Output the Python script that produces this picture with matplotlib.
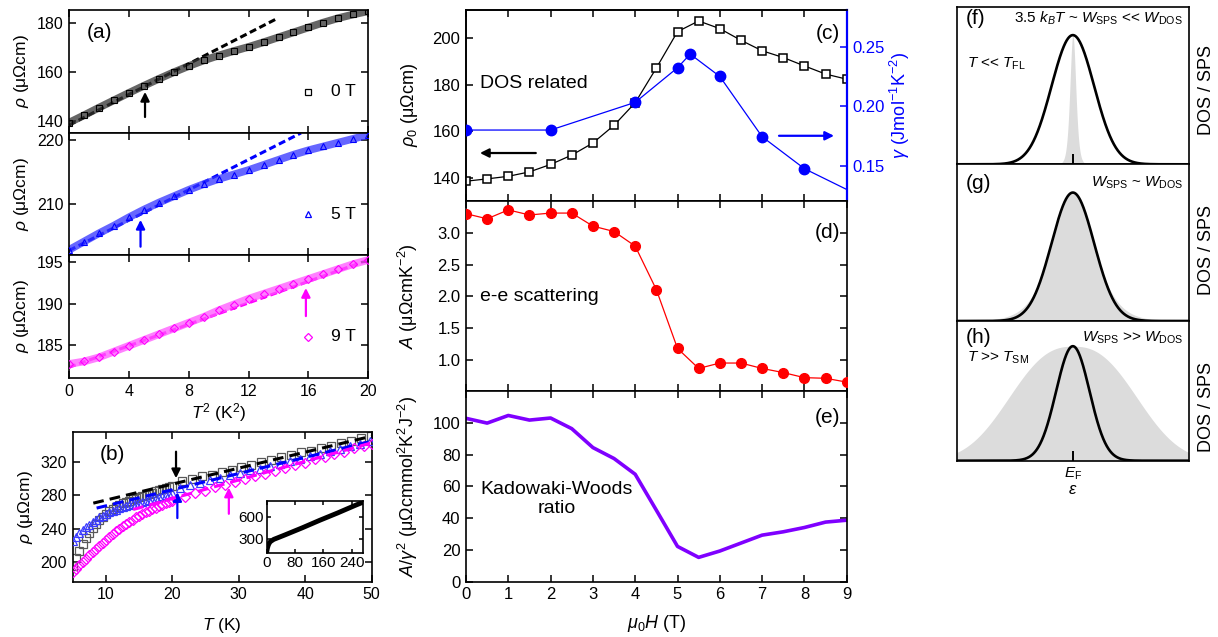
import numpy as np
import matplotlib
matplotlib.use('Agg')
import matplotlib.pyplot as plt

plt.rcParams['font.family'] = ['Liberation Sans', 'DejaVu Sans']
plt.rcParams['mathtext.fontset'] = 'custom'
plt.rcParams['mathtext.rm'] = 'Liberation Sans'
plt.rcParams['mathtext.it'] = 'Liberation Sans:italic'
plt.rcParams['mathtext.sf'] = 'Liberation Sans'
plt.rcParams['axes.linewidth'] = 1.2

BLUE = '#0000FF'
MAG = '#FF00FF'
RED = '#FF0000'
PURPLE = '#7F00FF'

# ---------------- panel (a): rho vs T^2 ----------------
t2_a = [0, 1, 2, 3, 4, 5, 6, 7, 8, 9, 10, 11, 12, 13, 14, 15, 16, 17, 18, 19, 20]
rho_a_0T = [139.5, 142.5, 145.6, 148.6, 151.6, 154.5, 157.3, 160.0, 162.5, 164.8, 166.8,
            168.6, 170.3, 172.2, 174.2, 176.2, 178.2, 180.2, 182.0, 183.5, 184.8]
rho_a_5T = [202.8, 204.1, 205.4, 206.6, 207.9, 209.1, 210.2, 211.2, 212.2, 213.1, 213.9,
            214.6, 215.3, 216.1, 216.9, 217.7, 218.4, 219.0, 219.6, 220.2, 220.8]
rho_a_9T = [182.7, 183.0, 183.5, 184.2, 184.9, 185.6, 186.3, 187.0, 187.7, 188.4, 189.2,
            189.9, 190.6, 191.2, 191.8, 192.4, 193.0, 193.6, 194.2, 194.8, 195.3]
fit_a_x_0T = [0, 13.8]
fit_a_y_0T = [138.5, 181.5]
fit_a_x_5T = [0, 15.5]
fit_a_y_5T = [202.7, 221.1]
fit_a_x_9T = [0, 20]
fit_a_y_9T = [182.3, 195.3]
arrow_a_x = [5.08, 4.78, 15.83]
arrow_a_y0 = [141.8, 203.3, 188.5]
arrow_a_y1 = [152.0, 207.5, 191.9]

# ---------------- panel (b): rho vs T ----------------
T_b_dense = [5.0, 5.5, 6.0, 6.5, 7.0, 7.5, 8.0, 8.5, 9.0, 9.5, 10.0, 10.5, 11.0, 11.5, 12.0,
             12.5, 13.0, 13.5, 14.0, 14.5, 15.0, 15.5, 16.0, 16.5, 17.0, 17.5, 18.0, 18.5,
             19.0, 19.5, 20.0]
rho_b_0T_dense = [196, 205, 214, 222, 229, 235, 241, 246, 250.5, 254.5, 258, 261, 264, 266.5,
                  268.5, 270.5, 272, 273.5, 275, 276.5, 278, 279.3, 280.6, 281.9, 283.2,
                  284.5, 285.8, 287, 288.2, 289.4, 290.6]
rho_b_5T_dense = [226, 230.5, 234.5, 238.5, 242, 245, 248, 251, 253.5, 255.7, 257.8, 259.7,
                  261.5, 263, 264.5, 265.8, 267, 268.1, 269.1, 270.1, 271.1, 272, 273, 274,
                  275.1, 276.3, 277.5, 278.8, 280.1, 281.4, 282.7]
rho_b_9T_dense = [188.5, 192.5, 196.5, 200.5, 204.5, 208.5, 212.5, 216.2, 220, 223.6, 227.2,
                  230.6, 234, 237.3, 240.3, 243.2, 246, 248.6, 251.1, 253.5, 255.8, 257.9,
                  259.9, 261.8, 263.6, 265.3, 267, 268.7, 270.3, 271.9, 273.5]
T_b_0T_sparse = [21.4, 22.9, 24.4, 25.9, 27.4, 28.9, 30.4, 31.9, 33.4, 34.9, 36.4, 37.9,
                 39.4, 40.9, 42.4, 43.9, 45.4, 46.9, 48.4, 49.9]
rho_b_0T_sparse = [296.8, 299.0, 302.6, 304.5, 308.2, 310.3, 313.9, 315.8, 319.6, 321.7,
                   325.3, 327.4, 331.0, 333.1, 336.7, 338.8, 342.4, 344.5, 348.1, 350.2]
T_b_5T_sparse = [21.2, 22.7, 24.2, 25.7, 27.2, 28.7, 30.2, 31.7, 33.2, 34.7, 36.2, 37.7,
                 39.2, 40.7, 42.2, 43.7, 45.2, 46.7, 48.2, 49.7]
rho_b_5T_sparse = [288.6, 292.0, 294.4, 297.9, 300.2, 303.7, 306.0, 309.5, 311.8, 315.2,
                   317.5, 321.0, 323.3, 326.8, 329.1, 332.6, 334.9, 338.4, 340.6, 344.1]
T_b_9T_sparse = [21.9, 23.4, 24.9, 26.4, 27.9, 29.4, 30.9, 32.4, 33.9, 35.4, 36.9, 38.4,
                 39.9, 41.4, 42.9, 44.4, 45.9, 47.4, 48.9, 50.0]
rho_b_9T_sparse = [278.3, 282.6, 285.6, 289.6, 292.3, 296.1, 298.8, 302.9, 305.5, 309.4,
                   312.0, 316.0, 318.6, 322.6, 325.1, 329.2, 331.6, 335.7, 338.3, 341.0]
fit_b_x_0T = [8.1, 50]
fit_b_y_0T = [270.6, 350.4]
fit_b_x_5T = [8.6, 50]
fit_b_y_5T = [264.7, 344.4]
fit_b_x_9T = [14.1, 50]
fit_b_y_9T = [263.0, 342.5]
T_inset = [0, 2, 4, 6, 8, 10, 12, 15, 20, 30, 50, 100, 150, 200, 250, 271]
rho_inset = [120, 170, 205, 228, 245, 258, 266, 276, 292, 311, 350, 450, 555, 655, 760, 802]

# ---------------- panels (c)-(e): field dependence ----------------
H = [0, 0.5, 1, 1.5, 2, 2.5, 3, 3.5, 4, 4.5, 5, 5.5, 6, 6.5, 7, 7.5, 8, 8.5, 9]
rho0 = [138.5, 139.5, 140.6, 142.5, 145.7, 149.7, 154.9, 162.5, 172.2, 187.1, 202.7, 207.3,
        204.0, 199.0, 194.5, 191.6, 188.0, 184.5, 182.3]
H_gamma = [0, 2, 4, 5, 5.3, 6, 7, 8, 9]
gamma = [0.180, 0.180, 0.2033, 0.2324, 0.2439, 0.2251, 0.1744, 0.1475, 0.130]
A_coef = [3.30, 3.22, 3.36, 3.28, 3.31, 3.31, 3.105, 3.02, 2.79, 2.105, 1.18, 0.865, 0.95,
          0.95, 0.865, 0.80, 0.72, 0.71, 0.65]
KW = [102.8, 99.8, 104.6, 101.7, 103.0, 96.3, 84.4, 77.5, 67.6, 45.0, 22.2, 15.3, 19.3,
      24.3, 29.3, 31.4, 34.1, 37.5, 38.7]

# ---------------- panels (f)-(h): schematic widths ----------------
w_dos = [0.915, 0.915, 0.72]      # Gaussian sigma of DOS (black)
w_sps = [0.085, 0.60, 3.39]       # width parameter of SPS (gray)

fig = plt.figure(figsize=(12.18, 6.37), dpi=100)


def ax_at(l, t, r, b):
    W, Hh = 1218.0, 637.0
    return fig.add_axes([l / W, 1 - b / Hh, (r - l) / W, (b - t) / Hh])


def tk(ax, size=11.5, length=5):
    ax.tick_params(which='both', direction='in', top=True, right=True, length=length,
                   width=1.1, labelsize=size, pad=4)


arr_kw = dict(arrowstyle='-|>', lw=1.6, mutation_scale=13, shrinkA=0, shrinkB=0)

# ---- panel (a) ----
a1 = ax_at(69, 10, 368.3, 133)
a2 = ax_at(69, 133, 368.3, 255)
a3 = ax_at(69, 255, 368.3, 378)
series = [
    (a1, rho_a_0T, 'k', '#333333', 's', fit_a_x_0T, fit_a_y_0T, (135.3, 185.3), [140, 160, 180], '0 T'),
    (a2, rho_a_5T, BLUE, '#3333ff', '^', fit_a_x_5T, fit_a_y_5T, (202.0, 221.1), [210, 220], '5 T'),
    (a3, rho_a_9T, MAG, '#ff55ff', 'D', fit_a_x_9T, fit_a_y_9T, (181.0, 195.9), [185, 190, 195], '9 T'),
]
for i, (ax, y, c, bc, m, fx, fy, yl, yt, lab) in enumerate(series):
    ax.plot(fx, fy, '--', color=c, lw=2.2, dashes=(2.3, 1.2), zorder=1)
    ax.plot(t2_a, y, '-', color=bc, lw=5.5, alpha=0.75, zorder=2, solid_capstyle='butt')
    ax.plot(t2_a, y, m, mfc='none', mec=c, ms=4.5 if m != 'D' else 4, mew=0.8, zorder=3)
    ax.set_xlim(0, 20)
    ax.set_ylim(*yl)
    ax.set_yticks(yt)
    ax.set_xticks([0, 4, 8, 12, 16, 20])
    tk(ax)
    ax.set_ylabel(r'$\rho$ (μΩcm)', fontsize=12.5, labelpad=4)
    ax.annotate('', xy=(arrow_a_x[i], arrow_a_y1[i]), xytext=(arrow_a_x[i], arrow_a_y0[i]),
                arrowprops=dict(color=c, **arr_kw))
    ax.plot([0.80], [0.335], m, mfc='none', mec=c, ms=5 if m != 'D' else 4.5, mew=0.9,
            transform=ax.transAxes)
    ax.text(0.875, 0.335, lab, transform=ax.transAxes, fontsize=12.5, va='center', ha='left')
    if i < 2:
        ax.tick_params(labelbottom=False)
a1.text(0.06, 0.82, '(a)', transform=a1.transAxes, fontsize=15, va='center')
a3.set_xlabel(r'$T^2$ (K$^2$)', fontsize=12.5, labelpad=2)

# ---- panel (b) ----
b = ax_at(72.7, 432.3, 371.7, 581.7)
b.plot(T_b_dense, rho_b_0T_dense, 's', mfc='none', mec='0.35', ms=5.5, mew=0.9, zorder=2)
b.plot(T_b_0T_sparse, rho_b_0T_sparse, 's', mfc='none', mec='0.35', ms=5.5, mew=0.9, zorder=2)
b.plot(T_b_dense, rho_b_5T_dense, '^', mfc='none', mec='#3a3aff', ms=6, mew=0.9, zorder=3)
b.plot(T_b_5T_sparse, rho_b_5T_sparse, '^', mfc='none', mec='#3a3aff', ms=6, mew=0.9, zorder=3)
b.plot(T_b_dense, rho_b_9T_dense, 'D', mfc='none', mec=MAG, ms=5, mew=0.9, zorder=3)
b.plot(T_b_9T_sparse, rho_b_9T_sparse, 'D', mfc='none', mec=MAG, ms=5, mew=0.9, zorder=3)
b.plot(fit_b_x_0T, fit_b_y_0T, '--', color='k', lw=2.2, dashes=(3.5, 2), zorder=4)
b.plot(fit_b_x_5T, fit_b_y_5T, '--', color=BLUE, lw=2.2, dashes=(3.5, 2), zorder=4)
b.plot(fit_b_x_9T, fit_b_y_9T, '--', color=MAG, lw=2.2, dashes=(3.5, 2), zorder=4)
b.annotate('', xy=(20.55, 300.3), xytext=(20.55, 331.9), arrowprops=dict(color='k', **arr_kw))
b.annotate('', xy=(20.75, 283.7), xytext=(20.75, 252.8), arrowprops=dict(color=BLUE, **arr_kw))
b.annotate('', xy=(28.5, 289.1), xytext=(28.5, 257.9), arrowprops=dict(color=MAG, **arr_kw))
b.set_xlim(5, 50)
b.set_ylim(177, 355)
b.set_xticks([10, 20, 30, 40, 50])
b.set_yticks([200, 240, 280, 320])
tk(b)
b.set_xlabel(r'$T$ (K)', fontsize=12.5, labelpad=10)
b.set_ylabel(r'$\rho$ (μΩcm)', fontsize=12.5, labelpad=4)
b.text(9.1, 328, '(b)', fontsize=15, va='center')

ins = ax_at(266.7, 501, 362.7, 553.3)
ins.plot(T_inset, rho_inset, '-', color='k', lw=3.5)
ins.set_xlim(0, 271)
ins.set_ylim(100, 820)
ins.set_xticks([0, 80, 160, 240])
ins.set_yticks([300, 600])
tk(ins, size=11, length=3)
ins.tick_params(pad=2)

# ---- panel (c) ----
c = ax_at(466, 10, 846.7, 201)
c.plot(H, rho0, 's-', color='k', mfc='white', mec='k', ms=5.2, mew=1.1, lw=0.9, zorder=3)
c.set_xlim(0, 9)
c.set_ylim(130, 212)
c.set_yticks([140, 160, 180, 200])
c.set_xticks(range(10))
c.tick_params(which='both', direction='in', top=True, right=False, length=5, width=1.1,
              labelsize=12, pad=4, labelbottom=False)
c.set_ylabel(r'$\rho_0$ (μΩcm)', fontsize=13)
c2 = c.twinx()
c2.plot(H_gamma, gamma, 'o-', color=BLUE, ms=7.5, lw=0.9, markevery=list(range(8)), zorder=3)
c2.set_ylim(0.1203, 0.281)
c2.set_yticks([0.15, 0.20, 0.25])
c2.tick_params(direction='in', length=5, width=1.1, labelsize=12, colors=BLUE, pad=4)
c2.spines['right'].set_color(BLUE)
c2.spines['right'].set_linewidth(1.6)
c2.set_ylabel(r'$\gamma$ (Jmol$^{-1}$K$^{-2}$)', fontsize=13, color=BLUE, labelpad=2)
c.annotate('', xy=(0.33, 150.6), xytext=(1.65, 150.6), arrowprops=dict(color='k', **arr_kw))
c.annotate('', xy=(8.7, 158), xytext=(7.4, 158), arrowprops=dict(color=BLUE, **arr_kw))
c.text(0.33, 180.6, 'DOS related', fontsize=14, va='center')
c.text(8.85, 202, '(c)', fontsize=15, va='center', ha='right')

# ---- panel (d) ----
d = ax_at(466, 201, 846.7, 391)
d.plot(H, A_coef, 'o-', color=RED, ms=7, lw=0.9, zorder=3)
d.set_xlim(0, 9)
d.set_ylim(0.51, 3.5)
d.set_yticks([1.0, 1.5, 2.0, 2.5, 3.0])
d.set_yticklabels(['1.0', '1.5', '2.0', '2.5', '3.0'])
d.set_xticks(range(10))
tk(d, size=12)
d.tick_params(labelbottom=False)
d.set_ylabel(r'$A$ (μΩcmK$^{-2}$)', fontsize=13)
d.text(0.33, 2.0, 'e-e scattering', fontsize=14, va='center')
d.text(8.85, 3.0, '(d)', fontsize=15, va='center', ha='right')

# ---- panel (e) ----
e = ax_at(466, 391, 846.7, 581.7)
e.plot(H, KW, '-', color=PURPLE, lw=2.6)
e.set_xlim(0, 9)
e.set_ylim(0, 120)
e.set_yticks([0, 20, 40, 60, 80, 100])
e.set_xticks(range(10))
tk(e, size=12)
e.set_ylabel(r'$A/\gamma^2$ (μΩcmmol$^2$K$^2$J$^{-2}$)', fontsize=13)
e.set_xlabel(r'$\mu_0H$ (T)', fontsize=13, labelpad=8)
e.text(2.14, 52, 'Kadowaki-Woods\nratio', fontsize=14, va='center', ha='center',
       linespacing=1.1)
e.text(8.85, 103.5, '(e)', fontsize=15, va='center', ha='right')
for ax in (c, d, e):
    ax.yaxis.set_label_coords(-0.12, 0.5)

# ---- panels (f)-(h) ----
eps = np.linspace(-5, 5, 1201)
rects = [(956.7, 6.7, 1189, 164.3), (956.7, 164.3, 1189, 321), (956.7, 321, 1189, 460.7)]
labels = ['(f)', '(g)', '(h)']
top_txt = [r'3.5 $k_BT$ ~ $W_{\rm SPS}$ << $W_{\rm DOS}$', r'$W_{\rm SPS}$ ~ $W_{\rm DOS}$',
           r'$W_{\rm SPS}$ >> $W_{\rm DOS}$']
side_txt = [r'$T$ << $T_{\rm FL}$', None, r'$T$ >> $T_{\rm SM}$']
side_y = [0.64, None, 0.733]
lab_y = [0.926, 0.879, 0.883]
for k in range(3):
    ax = ax_at(*rects[k])
    if k < 2:
        gray = 1.0 / np.cosh(eps / (2 * w_sps[k])) ** 2
    else:
        gray = np.exp(-np.abs(eps / w_sps[k]) ** 2.5)
    black = np.exp(-eps ** 2 / (2 * w_dos[k] ** 2))
    ax.fill_between(eps, 0, gray, color='#dcdcdc', lw=0, zorder=1)
    ax.plot(eps, black, color='k', lw=1.9, zorder=2)
    ax.set_xlim(-5, 5)
    ax.set_ylim(0, 1.22)
    ax.set_yticks([])
    if k == 1:
        ax.set_xticks([])
    else:
        ax.set_xticks([0])
        ax.tick_params(axis='x', direction='in', length=7, width=1.4)
        ax.set_xticklabels([r'$E_{\rm F}$'] if k == 2 else [''], fontsize=11)
    ax.text(0.04, lab_y[k], labels[k], transform=ax.transAxes, fontsize=15, va='center')
    ax.text(0.975, lab_y[k], top_txt[k], transform=ax.transAxes, fontsize=11, va='center',
            ha='right')
    if side_txt[k]:
        ax.text(0.043, side_y[k], side_txt[k], transform=ax.transAxes, fontsize=11,
                va='center')
    if k == 2:
        ax.set_xlabel(r'$\varepsilon$', fontsize=12, labelpad=0)

for yy in [90, 250, 407]:
    fig.text(1206.7 / 1218, 1 - yy / 637, 'DOS / SPS', rotation=90, fontsize=13,
             va='center', ha='center')

fig.savefig('out.png', dpi=100)
